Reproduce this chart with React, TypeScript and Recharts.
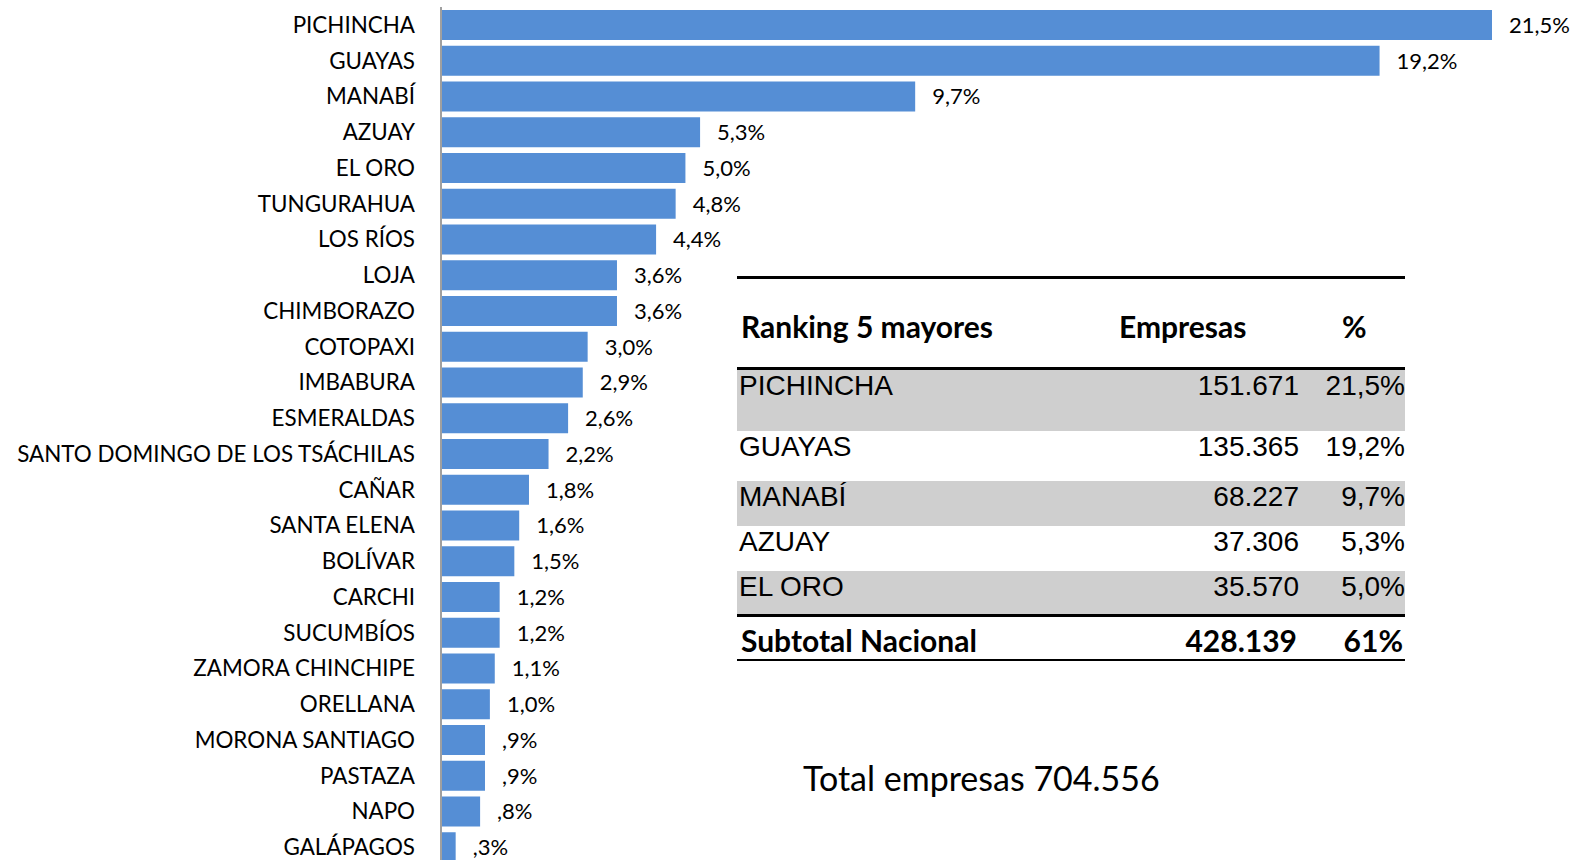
import { BarChart, Bar, XAxis, YAxis, LabelList } from 'recharts';

const provincias = ['PICHINCHA','GUAYAS','MANABÍ','AZUAY','EL ORO','TUNGURAHUA','LOS RÍOS','LOJA','CHIMBORAZO','COTOPAXI','IMBABURA','ESMERALDAS','SANTO DOMINGO DE LOS TSÁCHILAS','CAÑAR','SANTA ELENA','BOLÍVAR','CARCHI','SUCUMBÍOS','ZAMORA CHINCHIPE','ORELLANA','MORONA SANTIAGO','PASTAZA','NAPO','GALÁPAGOS'];
const porcentaje = [21.5,19.2,9.7,5.3,5.0,4.8,4.4,3.6,3.6,3.0,2.9,2.6,2.2,1.8,1.6,1.5,1.2,1.2,1.1,1.0,0.9,0.9,0.8,0.3];

const topNombres = ['PICHINCHA','GUAYAS','MANABÍ','AZUAY','EL ORO'];
const topEmpresas = ['151.671','135.365','68.227','37.306','35.570'];
const topPct = ['21,5%','19,2%','9,7%','5,3%','5,0%'];
const subtotal = { empresas: '428.139', pct: '61%' };
const totalEmpresas = '704.556';

const BLUE = '#558ed5';
const GRIS = '#cfcfcf';
const CAL = 'Lato, "Open Sans", sans-serif';
const ARIAL = '"Liberation Sans", Arial, sans-serif';

const fmt = (v: number) => v.toFixed(1).replace('.', ',').replace(/^0/, '') + '%';

// filas de la tabla: top y alto
const ROWS = [[370, 61], [431, 50], [481, 45], [526, 45], [571, 44]];

function Linea({ y, h }: { y: number; h: number }) {
  return <div style={{ position: 'absolute', left: 737, width: 668, top: y, height: h, background: '#000' }} />;
}

export default function App() {
  const data = provincias.map((p, i) => ({ name: p, v: porcentaje[i] }));
  return (
    <div style={{ position: 'fixed', left: 0, top: 0, width: 1570, height: 860, overflow: 'hidden', background: '#fff' }}>
      <BarChart width={1570} height={870} data={data} layout="vertical" margin={{ top: 7, right: 78, bottom: 5, left: 0 }}>
        <XAxis type="number" domain={[0, 21.5]} hide />
        <YAxis type="category" dataKey="name" width={441} axisLine={{ stroke: '#a0a0a0', strokeWidth: 2 }} tickLine={false} tickSize={0} tickMargin={26} interval={0}
          tick={{ fill: '#000', fontSize: 22.4, fontFamily: CAL }} />
        <Bar dataKey="v" fill={BLUE} barSize={30} isAnimationActive={false}>
          <LabelList dataKey="v" position="right" offset={17} formatter={(v: any) => fmt(Number(v))} style={{ fill: '#000', fontSize: 22, fontFamily: CAL }} />
        </Bar>
      </BarChart>

      <Linea y={276} h={3} />
      <div style={{ position: 'absolute', top: 309, left: 741, fontFamily: CAL, fontWeight: 700, fontSize: 30, lineHeight: '34px' }}>Ranking 5 mayores</div>
      <div style={{ position: 'absolute', top: 309, left: 1119, fontFamily: CAL, fontWeight: 700, fontSize: 30, lineHeight: '34px' }}>Empresas</div>
      <div style={{ position: 'absolute', top: 309, left: 1342, fontFamily: CAL, fontWeight: 700, fontSize: 30, lineHeight: '34px' }}>%</div>
      <Linea y={367} h={3} />
      {topNombres.map((n, i) => (
        <div key={n} style={{ position: 'absolute', left: 737, width: 668, top: ROWS[i][0], height: ROWS[i][1], background: i % 2 === 0 ? GRIS : '#fff', fontFamily: ARIAL, fontSize: 28, lineHeight: '32px' }}>
          <span style={{ position: 'absolute', left: 2, top: 0 }}>{n}</span>
          <span style={{ position: 'absolute', right: 106, top: 0 }}>{topEmpresas[i]}</span>
          <span style={{ position: 'absolute', right: 0, top: 0 }}>{topPct[i]}</span>
        </div>
      ))}
      <Linea y={614} h={3} />
      <div style={{ position: 'absolute', left: 737, width: 668, top: 623, height: 34, fontFamily: CAL, fontWeight: 700, fontSize: 30, lineHeight: '34px' }}>
        <span style={{ position: 'absolute', left: 4, top: 0 }}>Subtotal Nacional</span>
        <span style={{ position: 'absolute', right: 108, top: 0 }}>{subtotal.empresas}</span>
        <span style={{ position: 'absolute', right: 2, top: 0 }}>{subtotal.pct}</span>
      </div>
      <Linea y={659} h={2} />

      <div style={{ position: 'absolute', left: 803, top: 757, fontFamily: CAL, fontSize: 34, lineHeight: '42px' }}>Total empresas {totalEmpresas}</div>
    </div>
  );
}
